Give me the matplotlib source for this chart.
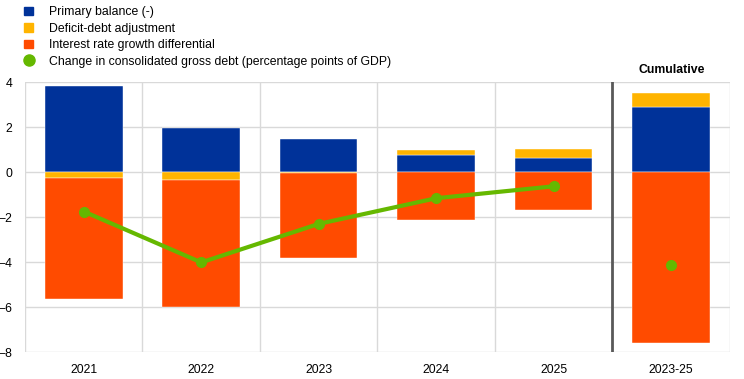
import numpy as np
import matplotlib
matplotlib.use("Agg")
import matplotlib.pyplot as plt
from matplotlib.lines import Line2D
from matplotlib.patches import Patch

plt.rcParams['font.family'] = ['Liberation Sans', 'DejaVu Sans']

categories = ["2021", "2022", "2023", "2024", "2025", "2023-25"]
primary_balance = [3.85, 1.95, 1.50, 0.77, 0.62, 2.89]
deficit_debt = [-0.27, -0.35, -0.04, 0.20, 0.43, 0.62]
interest_growth = [-5.35, -5.61, -3.77, -2.12, -1.66, -7.58]
debt_change = [-1.74, -4.00, -2.29, -1.15, -0.62, -4.10]

BLUE = "#003299"
YELLOW = "#FFB400"
ORANGE = "#FF4B00"
GREEN = "#65B800"

fig = plt.figure(figsize=(7.44, 3.79), dpi=100)
ax = fig.add_axes([0.0336, 0.070, 0.9475, 0.713])

x = np.arange(len(categories))
width = 0.66

# diverging stack: positives go up, negatives go down
pos_base = np.zeros(len(x))
neg_base = np.zeros(len(x))
for vals, col in [(primary_balance, BLUE), (deficit_debt, YELLOW), (interest_growth, ORANGE)]:
    vals = np.array(vals)
    bottoms = np.where(vals >= 0, pos_base, neg_base)
    ax.bar(x, vals, width, bottom=bottoms, color=col, edgecolor="white",
           linewidth=0.3, zorder=2)
    pos_base = pos_base + np.clip(vals, 0, None)
    neg_base = neg_base + np.clip(vals, None, 0)

# yearly line, cumulative shown as lone dot
ax.plot(x[:5], debt_change[:5], color=GREEN, lw=3, marker="o", ms=7, zorder=3)
ax.plot(x[5], debt_change[5], color=GREEN, marker="o", ms=7, lw=0, zorder=3)

ax.set_xlim(-0.5, len(x) - 0.5)
ax.set_ylim(-8, 4)
ax.set_yticks(np.arange(-8, 5, 2))
ax.set_xticks(x)
ax.set_xticklabels(categories)
ax.set_xticks(np.arange(-0.5, len(x), 1), minor=True)
ax.tick_params(axis="both", which="both", length=0, labelsize=8.8, colors="black")
ax.tick_params(axis="y", pad=9)
ax.tick_params(axis="x", pad=8)

ax.grid(axis="y", which="major", color="#d9d9d9", lw=1, zorder=0)
ax.grid(axis="x", which="minor", color="#d9d9d9", lw=1, zorder=0)
for s in ax.spines.values():
    s.set_visible(False)

ax.axvline(4.5, color="#595959", lw=2, zorder=4)
ax.text(5, 4.55, "Cumulative", ha="center", va="center", fontsize=8.8,
        fontweight="bold", clip_on=False)

handles = [
    Patch(color=BLUE, label="Primary balance (-)"),
    Patch(color=YELLOW, label="Deficit-debt adjustment"),
    Patch(color=ORANGE, label="Interest rate growth differential"),
    Line2D([], [], color=GREEN, marker="o", lw=0, ms=8,
           label="Change in consolidated gross debt (percentage points of GDP)"),
]
fig.legend(handles=handles, loc="upper left", bbox_to_anchor=(0.018, 1.012),
           frameon=False, fontsize=8.8, handlelength=0.7, handleheight=0.7,
           handletextpad=1.3, labelspacing=0.36)

fig.savefig("out.png", dpi=100)
